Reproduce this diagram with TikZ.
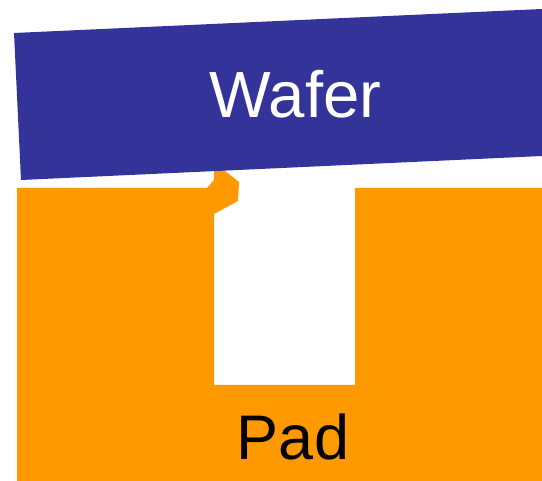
\documentclass[tikz,border=0pt]{standalone}
\usepackage{fontspec}
\setmainfont{Liberation Sans}
\definecolor{wafer}{HTML}{333399}
\definecolor{pad}{HTML}{FF9900}
\begin{document}
\begin{tikzpicture}[x=1pt,y=-1pt,lbl/.style={inner sep=0pt,anchor=base}]
\useasboundingbox (0,0) rectangle (542,481);
\fill[pad] (17,188) -- (207,188) -- (214,180) -- (214,165) -- (217.5,165) -- (239,182) -- (238,201) -- (214,214) -- (214,385) -- (355,385) -- (355,188) -- (542,188) -- (542,481) -- (17,481) -- cycle;
\fill[wafer] (14,33) -- (542,9) -- (542,156) -- (21,180) -- cycle;
\node[lbl,text=white,font=\fontsize{65.3}{65.3}\selectfont] (w) at (295.5,118) {Wafer};
\node[lbl,text=black,font=\fontsize{63}{63}\selectfont] (p) at (293,460) {Pad};
\end{tikzpicture}
\end{document}
